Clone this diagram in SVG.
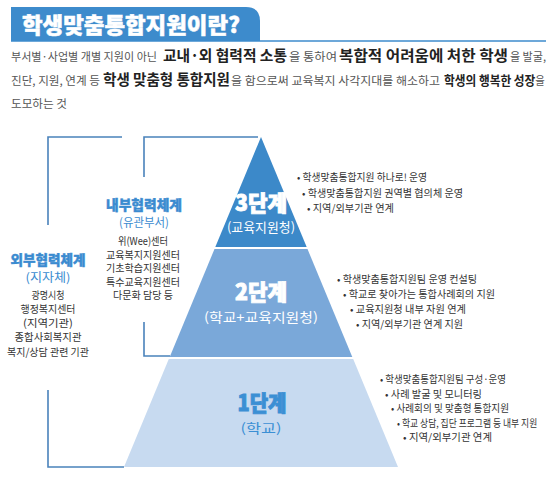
<svg xmlns="http://www.w3.org/2000/svg" width="555" height="478" viewBox="0 0 555 478">
<style>
text{font-family:"Noto Sans CJK KR","Noto Sans",sans-serif;}
.reg{font-size:11.5px;fill:#555;}
.bld{font-size:15px;font-weight:bold;fill:#222;}
.bld2{font-size:13px;font-weight:bold;fill:#222;}
.bul{font-size:10px;fill:#333;}
.col{font-size:10.5px;fill:#333;text-anchor:middle;}
.hd{font-size:13.5px;font-weight:900;fill:#3b8bd0;stroke:#3b8bd0;stroke-width:0.4;text-anchor:middle;}
.sub{font-size:12px;fill:#3b8bd0;text-anchor:middle;}
.lvl{font-size:22px;font-weight:900;text-anchor:middle;stroke-width:0.9;}
.lvs{font-size:13px;text-anchor:middle;}
.br{fill:none;stroke:#4a82bb;stroke-width:1.6;}
</style>
<rect width="555" height="478" fill="#fff"/>
<g id="title">
<path d="M11,7 H246 Q260,7 260,21 V41 H11 Z" fill="#3d8bcc"/>
<line x1="11" y1="41" x2="546" y2="41" stroke="#3d8bcc" stroke-width="1.6"/>
<text x="22" y="33" font-size="22" font-weight="900" fill="#fff" stroke="#fff" stroke-width="0.5" textLength="218" lengthAdjust="spacingAndGlyphs">학생맞춤통합지원이란?</text>
</g>
<g id="intro">
<text class="reg" x="11" y="61" textLength="146" lengthAdjust="spacingAndGlyphs">부서별·사업별 개별 지원이 아닌</text>
<text class="bld" x="163" y="61" textLength="124" lengthAdjust="spacingAndGlyphs">교내·외 협력적 소통</text>
<text class="reg" x="289" y="61" textLength="48" lengthAdjust="spacingAndGlyphs">을 통하여</text>
<text class="bld" x="339" y="61" textLength="169" lengthAdjust="spacingAndGlyphs">복합적 어려움에 처한 학생</text>
<text class="reg" x="510" y="61" textLength="36" lengthAdjust="spacingAndGlyphs">을 발굴,</text>
<text class="reg" x="11" y="85" textLength="89" lengthAdjust="spacingAndGlyphs">진단, 지원, 연계 등</text>
<text class="bld" x="103" y="85" textLength="127" lengthAdjust="spacingAndGlyphs">학생 맞춤형 통합지원</text>
<text class="reg" x="231" y="85" textLength="209" lengthAdjust="spacingAndGlyphs">을 함으로써 교육복지 사각지대를 해소하고</text>
<text transform="translate(444,85) scale(0.8,1)" x="0" y="0" textLength="126" lengthAdjust="spacingAndGlyphs"><tspan class="bld2">학생의 행복한 성장</tspan><tspan class="reg">을</tspan></text>
<text class="reg" x="11" y="108" textLength="56" lengthAdjust="spacingAndGlyphs">도모하는 것</text>
</g>
<g id="connectors">
<path class="br" d="M122,137 H48 V225"/>
<path class="br" d="M48,390 V467 H124"/>
<path class="br" d="M258,137 H144 V177"/>
<path class="br" d="M144,322 V356 H170"/>
</g>
<g id="tier3">
<polygon points="261,137 306.7,247 215.3,247" fill="#3c89c9"/>
<text class="lvl" x="261" y="211" fill="#fff" stroke="#fff" textLength="52" lengthAdjust="spacingAndGlyphs">3단계</text>
<text class="lvs" x="261" y="232" fill="#fff" textLength="68" lengthAdjust="spacingAndGlyphs">(교육지원청)</text>
</g>
<g id="tier2">
<polygon points="214.5,249 307.5,249 352.3,357 169.7,357" fill="#7aa8d9"/>
<text class="lvl" x="261" y="300" fill="#fff" stroke="#fff" textLength="52" lengthAdjust="spacingAndGlyphs">2단계</text>
<text class="lvs" x="261" y="322" fill="#fff" textLength="114" lengthAdjust="spacingAndGlyphs">(학교+교육지원청)</text>
</g>
<g id="tier1">
<polygon points="168.8,359 353.2,359 398,467 124,467" fill="#c7daf0"/>
<text class="lvl" x="262" y="411" fill="#3b8fd4" stroke="#3b8fd4" textLength="49" lengthAdjust="spacingAndGlyphs">1단계</text>
<text class="lvs" x="261" y="433" fill="#3b8fd4" textLength="41" lengthAdjust="spacingAndGlyphs">(학교)</text>
</g>
<g id="external">
<text class="hd" x="48" y="265" textLength="75" lengthAdjust="spacingAndGlyphs">외부협력체계</text>
<text class="sub" x="48" y="282" textLength="45" lengthAdjust="spacingAndGlyphs">(지자체)</text>
<text class="col" x="48" y="299" textLength="33" lengthAdjust="spacingAndGlyphs">광명시청</text>
<text class="col" x="48" y="313" textLength="55" lengthAdjust="spacingAndGlyphs">행정복지센터</text>
<text class="col" x="48" y="327" textLength="50" lengthAdjust="spacingAndGlyphs">(지역기관)</text>
<text class="col" x="48" y="341" textLength="67" lengthAdjust="spacingAndGlyphs">종합사회복지관</text>
<text class="col" x="48" y="356" textLength="82" lengthAdjust="spacingAndGlyphs">복지/상담 관련 기관</text>
</g>
<g id="internal">
<text class="hd" x="144" y="210" textLength="76" lengthAdjust="spacingAndGlyphs">내부협력체계</text>
<text class="sub" x="144" y="227" textLength="50" lengthAdjust="spacingAndGlyphs">(유관부서)</text>
<text class="col" x="143" y="245" textLength="50" lengthAdjust="spacingAndGlyphs">위(Wee)센터</text>
<text class="col" x="143" y="258.5" textLength="74" lengthAdjust="spacingAndGlyphs">교육복지지원센터</text>
<text class="col" x="143" y="272" textLength="74" lengthAdjust="spacingAndGlyphs">기초학습지원센터</text>
<text class="col" x="143" y="285.5" textLength="74" lengthAdjust="spacingAndGlyphs">특수교육지원센터</text>
<text class="col" x="143" y="299" textLength="60" lengthAdjust="spacingAndGlyphs">다문화 담당 등</text>
</g>
<g id="tier3-notes">
<text class="bul" x="297" y="181" textLength="130" lengthAdjust="spacingAndGlyphs">• 학생맞춤통합지원 하나로! 운영</text>
<text class="bul" x="302" y="197" textLength="161" lengthAdjust="spacingAndGlyphs">• 학생맞춤통합지원 권역별 협의체 운영</text>
<text class="bul" x="307" y="212" textLength="87" lengthAdjust="spacingAndGlyphs">• 지역/외부기관 연계</text>
</g>
<g id="tier2-notes">
<text class="bul" x="337" y="283" textLength="140" lengthAdjust="spacingAndGlyphs">• 학생맞춤통합지원팀 운영 컨설팅</text>
<text class="bul" x="343" y="298" textLength="152" lengthAdjust="spacingAndGlyphs">• 학교로 찾아가는 통합사례회의 지원</text>
<text class="bul" x="350" y="313" textLength="116" lengthAdjust="spacingAndGlyphs">• 교육지원청 내부 자원 연계</text>
<text class="bul" x="356" y="328" textLength="107" lengthAdjust="spacingAndGlyphs">• 지역/외부기관 연계 지원</text>
</g>
<g id="tier1-notes">
<text class="bul" x="380" y="383" textLength="126" lengthAdjust="spacingAndGlyphs">• 학생맞춤통합지원팀 구성·운영</text>
<text class="bul" x="385" y="398" textLength="97" lengthAdjust="spacingAndGlyphs">• 사례 발굴 및 모니터링</text>
<text class="bul" x="391" y="412" textLength="118" lengthAdjust="spacingAndGlyphs">• 사례회의 및 맞춤형 통합지원</text>
<text class="bul" transform="translate(397,427) scale(0.85,1)" x="0" y="0" textLength="165" lengthAdjust="spacingAndGlyphs">• 학교 상담, 집단 프로그램 등 내부 지원</text>
<text class="bul" x="403" y="441" textLength="89" lengthAdjust="spacingAndGlyphs">• 지역/외부기관 연계</text>
</g>
</svg>
